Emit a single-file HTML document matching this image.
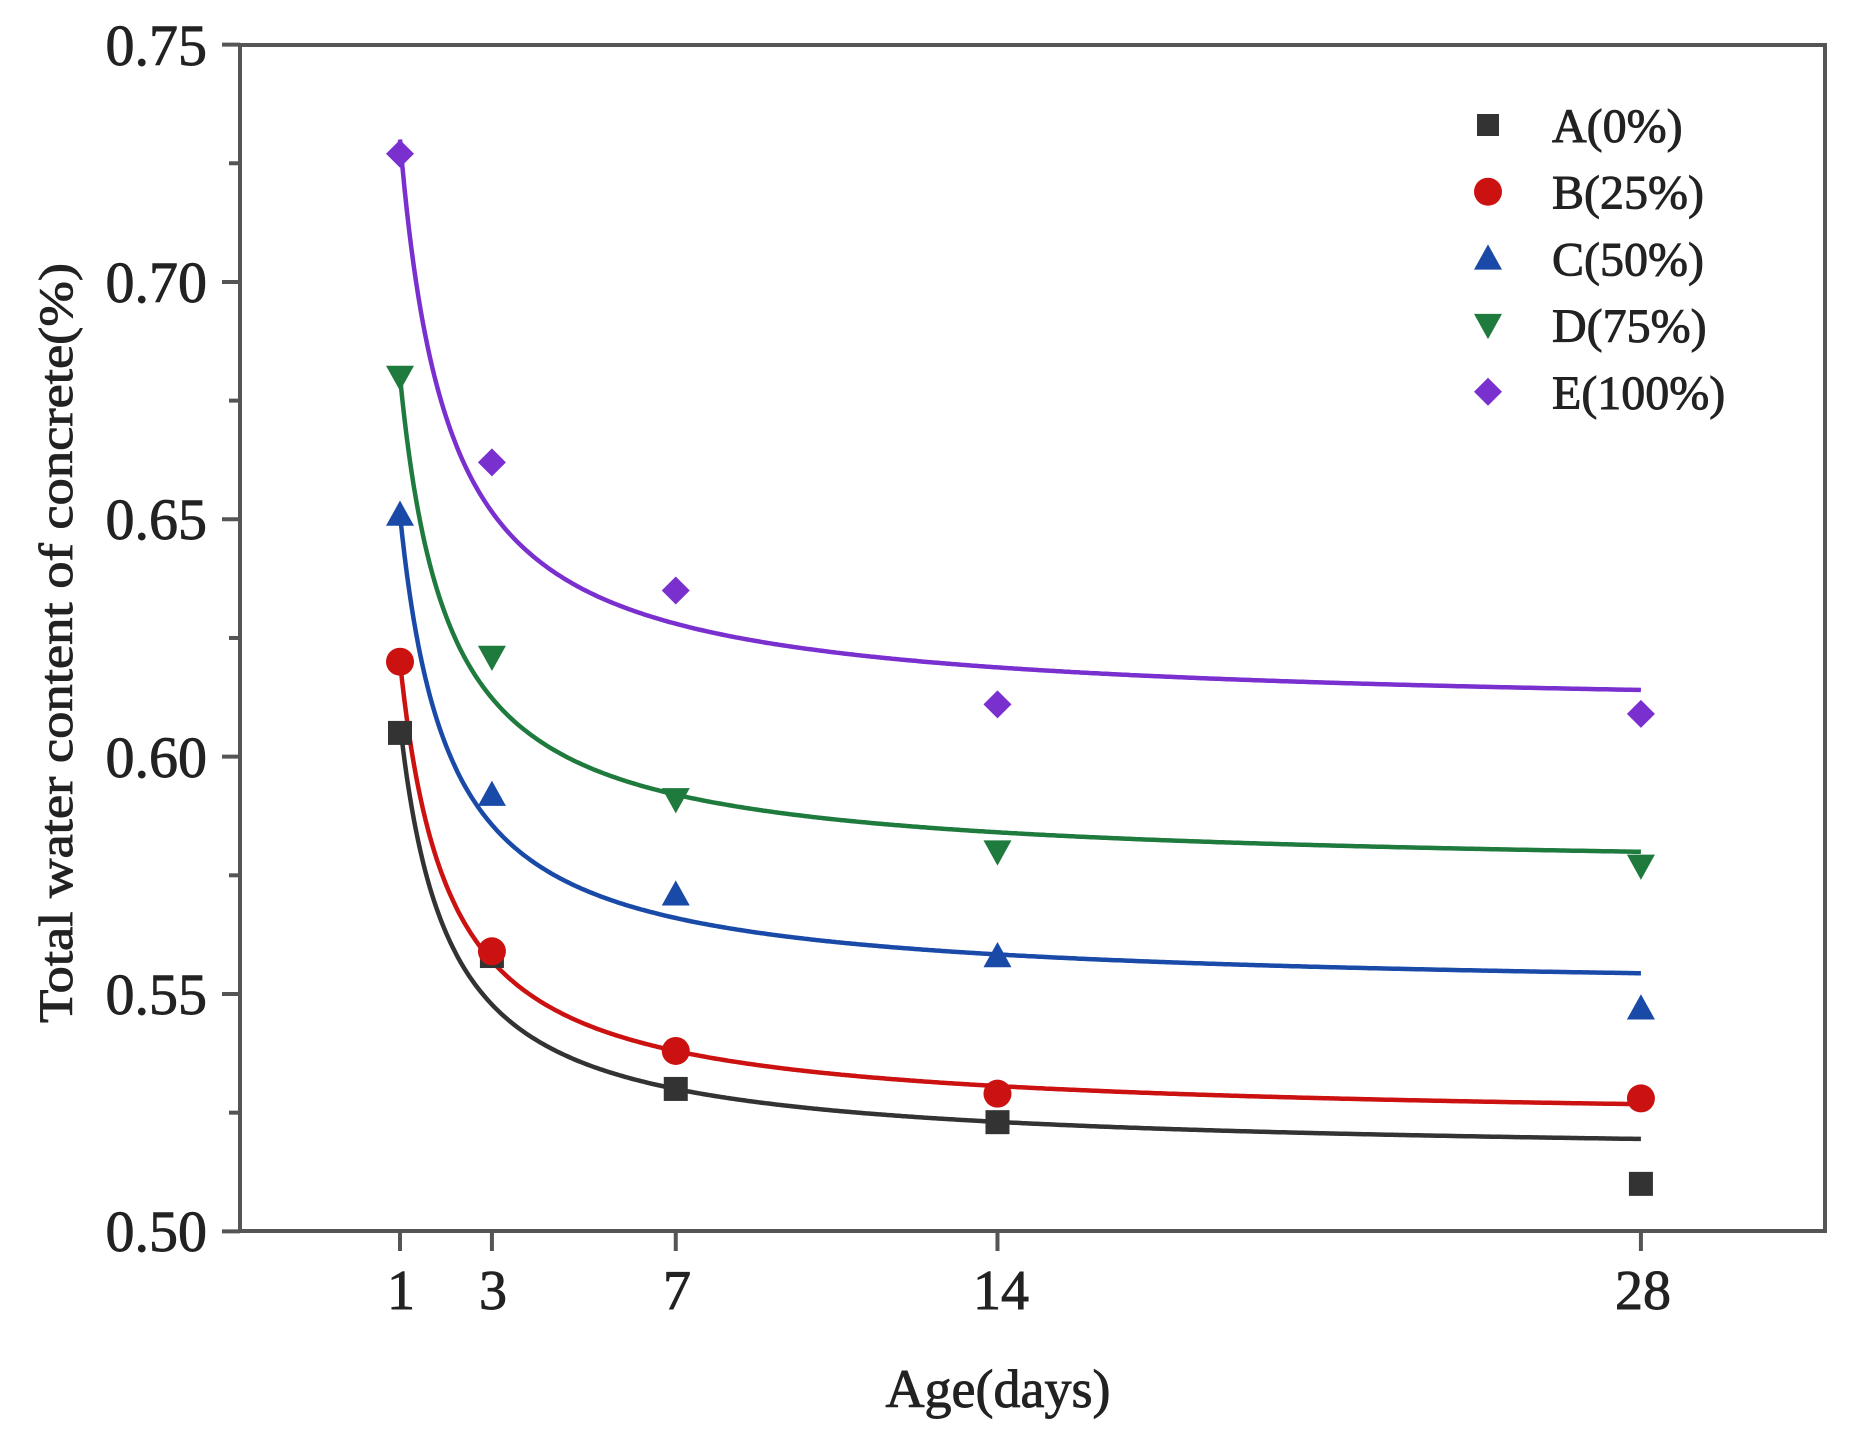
<!DOCTYPE html>
<html><head><meta charset="utf-8">
<style>
html,body{margin:0;padding:0;background:#fff;}
svg{display:block;}
text{font-family:"Liberation Serif",serif;fill:#222;stroke:#222;stroke-width:0.9;}
</style></head>
<body>
<svg id="s" width="1868" height="1431" viewBox="0 0 1868 1431" xmlns="http://www.w3.org/2000/svg">
<rect width="1868" height="1431" fill="#fff"/>
<g id="curves" fill="none" stroke-width="4.5"></g>
<g id="marks"></g>
<rect x="240" y="45" width="1585" height="1186" fill="none" stroke="#555" stroke-width="4"/>
<g id="ticks" stroke="#555" stroke-width="4"></g>
<g font-size="58" text-anchor="end">
<text x="207" y="65">0.75</text>
<text x="207" y="302">0.70</text>
<text x="207" y="539">0.65</text>
<text x="207" y="777">0.60</text>
<text x="207" y="1014">0.55</text>
<text x="207" y="1251">0.50</text>
</g>
<g font-size="56" text-anchor="middle">
<text x="401" y="1309">1</text>
<text x="493" y="1309">3</text>
<text x="677" y="1309">7</text>
<text x="1001" y="1309">14</text>
<text x="1643" y="1309">28</text>
</g>
<text x="998" y="1407" font-size="54" text-anchor="middle">Age(days)</text>
<text transform="translate(72,643) rotate(-90)" font-size="48" text-anchor="middle" textLength="760" lengthAdjust="spacingAndGlyphs">Total water content of concrete(%)</text>
<g id="legend" font-size="48"></g>
</svg>
<script>
var NS="http://www.w3.org/2000/svg";
function X(d){return 400+(d-1)*45.96;}
function Y(v){return 44.6+(0.75-v)*4747;}
function el(t,a,p){var e=document.createElementNS(NS,t);for(var k in a)e.setAttribute(k,a[k]);p.appendChild(e);return e;}
var ticks=document.getElementById('ticks');
for(var i=0;i<=10;i++){var v=0.75-i*0.025,y=Y(v),major=i%2==0;el('line',{x1:major?222:229,x2:240,y1:y,y2:y},ticks);}
[1,3,7,14,28].forEach(function(d){el('line',{x1:X(d),x2:X(d),y1:1231,y2:1251},ticks);});
var S=[
 {c:"#333333",m:"sq",y1:0.607,y7:0.530,pts:[0.605,0.558,0.530,0.523,0.510],lab:"A(0%)"},
 {c:"#cc1111",m:"ci",y1:0.620,y7:0.538,pts:[0.620,0.559,0.538,0.529,0.528],lab:"B(25%)"},
 {c:"#1a4aa8",m:"tu",y1:0.651,y7:0.566,pts:[0.651,0.592,0.571,0.558,0.547],lab:"C(50%)"},
 {c:"#1f7a3e",m:"td",y1:0.680,y7:0.592,pts:[0.680,0.621,0.591,0.580,0.577],lab:"D(75%)"},
 {c:"#7a2fcf",m:"di",y1:0.730,y7:0.628,pts:[0.727,0.662,0.635,0.611,0.609],lab:"E(100%)"}
];
var days=[1,3,7,14,28],p=0.95;
var cg=document.getElementById('curves'),mg=document.getElementById('marks'),lg=document.getElementById('legend');
function mark(type,x,y,c,g,s){s=s||13;
 if(type=="sq")el('rect',{x:x-s+2,y:y-s+2,width:2*s-4,height:2*s-4,fill:c},g);
 else if(type=="ci")el('circle',{cx:x,cy:y,r:s,fill:c},g);
 else if(type=="tu")el('polygon',{points:(x)+","+(y-s)+" "+(x+s)+","+(y+s*0.8)+" "+(x-s)+","+(y+s*0.8),fill:c},g);
 else if(type=="td")el('polygon',{points:(x)+","+(y+s)+" "+(x+s)+","+(y-s*0.8)+" "+(x-s)+","+(y-s*0.8),fill:c},g);
 else el('polygon',{points:x+","+(y-s)+" "+(x+s)+","+y+" "+x+","+(y+s)+" "+(x-s)+","+y,fill:c},g);
}
S.forEach(function(s,i){
 var b=(s.y1-s.y7)/(1-Math.pow(7,-p)),a=s.y1-b,pts=[];
 for(var d=1;d<=28.001;d+=0.05)pts.push(X(d).toFixed(1)+","+Y(a+b*Math.pow(d,-p)).toFixed(1));
 el('polyline',{points:pts.join(" "),stroke:s.c},cg);
 s.pts.forEach(function(v,j){mark(s.m,X(days[j]),Y(v),s.c,mg,14);});
 var ly=125+66.7*i;
 mark(s.m,1488,ly,s.c,lg,s.m=="sq"?13:14);
 var t=el('text',{x:1552,y:ly+17},lg);t.textContent=s.lab;
});
</script>
</body></html>
